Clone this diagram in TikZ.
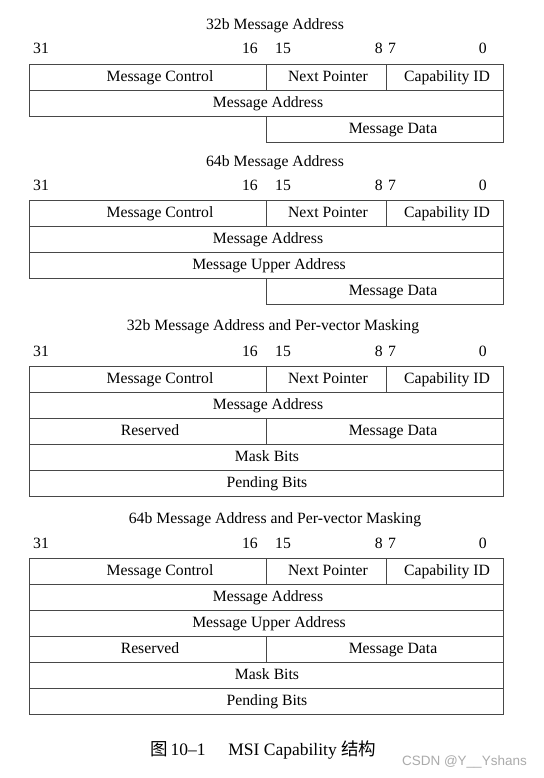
\documentclass[tikz,border=0pt]{standalone}
\usepackage{fontspec}
\setmainfont{Liberation Serif}
\newfontfamily\cjk{Noto Sans CJK SC}
\newfontfamily\wmfont{Liberation Sans}
\newcommand\cellat[7]{%
  \draw[box] (#2,#3) rectangle (#4,#5);
  \node[lbl] (#1) at (#6,{(#3+#5)/2}) {#7};}
\newcommand\bitnums[2]{%
  \node[lbl,anchor=west] (#1n31) at (33,#2-14.5) {31};
  \node[lbl,anchor=east] (#1n16) at (258,#2-14.5) {16};
  \node[lbl,anchor=west] (#1n15) at (275,#2-14.5) {15};
  \node[lbl,anchor=east] (#1n8) at (383,#2-14.5) {8};
  \node[lbl,anchor=west] (#1n7) at (388,#2-14.5) {7};
  \node[lbl,anchor=east] (#1n0) at (487,#2-14.5) {0};}
\newcommand\headrow[2]{%
  \cellat{#1mc}{29}{#2}{266}{#2+26}{160}{Message Control}
  \cellat{#1np}{266}{#2}{386}{#2+26}{328}{Next Pointer}
  \cellat{#1id}{386}{#2}{503}{#2+26}{447}{Capability ID}}
\begin{document}
\begin{tikzpicture}[x=1pt,y=-1pt,
  box/.style={draw=black!72,line width=0.9pt},
  lbl/.style={font=\fontsize{15.7}{18}\selectfont,inner sep=0pt,text height=1.0em,text depth=0.1em},
  ttl/.style={lbl}]
\fill[white] (0,0) rectangle (543,778);
\useasboundingbox (0,0) rectangle (543,778);
% Block 1
\node[ttl] (t1) at (275,25) {32b Message Address};
\bitnums{a}{64}
\headrow{a}{64}
\cellat{ama}{29}{90}{503}{116}{268}{Message Address}
\cellat{amd}{266}{116}{503}{142}{393}{Message Data}
% Block 2
\node[ttl] (t2) at (275,162) {64b Message Address};
\bitnums{b}{200}
\headrow{b}{200}
\cellat{bma}{29}{226}{503}{252}{268}{Message Address}
\cellat{bmu}{29}{252}{503}{278}{269}{Message Upper Address}
\cellat{bmd}{266}{278}{503}{304}{393}{Message Data}
% Block 3
\node[ttl] (t3) at (273,326) {32b Message Address and Per-vector Masking};
\bitnums{c}{366}
\headrow{c}{366}
\cellat{cma}{29}{392}{503}{418}{268}{Message Address}
\cellat{crs}{29}{418}{266}{444}{150}{Reserved}
\cellat{cmd}{266}{418}{503}{444}{393}{Message Data}
\cellat{cmb}{29}{444}{503}{470}{267}{Mask Bits}
\cellat{cpb}{29}{470}{503}{496}{267}{Pending Bits}
% Block 4
\node[ttl] (t4) at (275,519) {64b Message Address and Per-vector Masking};
\bitnums{d}{558}
\headrow{d}{558}
\cellat{dma}{29}{584}{503}{610}{268}{Message Address}
\cellat{dmu}{29}{610}{503}{636}{269}{Message Upper Address}
\cellat{drs}{29}{636}{266}{662}{150}{Reserved}
\cellat{dmd}{266}{636}{503}{662}{393}{Message Data}
\cellat{dmb}{29}{662}{503}{688}{267}{Mask Bits}
\cellat{dpb}{29}{688}{503}{714}{267}{Pending Bits}
% Caption
\node[font=\fontsize{17.5}{20}\selectfont,inner sep=0pt,anchor=west] (cap) at (150,750)
  {{\cjk 图}\,10–1\hspace{1.3em}MSI Capability {\cjk 结构}};
\node[font=\wmfont\fontsize{13.5}{15}\selectfont,text=black!33,inner sep=0pt,anchor=east] (wm) at (527,762) {CSDN @Y\_\_Yshans};
\end{tikzpicture}
\end{document}
